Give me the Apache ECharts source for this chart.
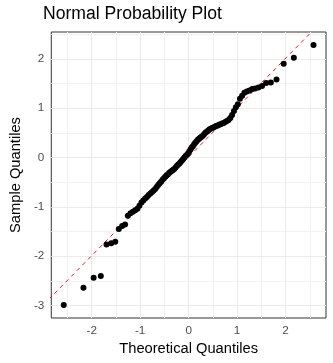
<!DOCTYPE html>
<html>
<head>
<meta charset="utf-8">
<script src="https://cdn.jsdelivr.net/npm/echarts@6/dist/echarts.min.js"></script>
<style>
html,body{margin:0;padding:0;background:#fff;}
#chart{width:333px;height:363px;}
</style>
</head>
<body>
<div id="chart"></div>
<script>
// Theoretical quantiles (n = 100)
const theoretical = [
-2.576,-2.170,-1.960,-1.812,-1.695,-1.598,-1.514,-1.440,-1.372,-1.311,
-1.254,-1.200,-1.150,-1.103,-1.058,-1.015,-0.974,-0.935,-0.896,-0.860,
-0.824,-0.789,-0.755,-0.722,-0.690,-0.659,-0.628,-0.598,-0.568,-0.539,
-0.510,-0.482,-0.454,-0.426,-0.399,-0.372,-0.345,-0.319,-0.292,-0.266,
-0.240,-0.215,-0.189,-0.164,-0.138,-0.113,-0.088,-0.063,-0.038,-0.013,
0.013,0.038,0.063,0.088,0.113,0.138,0.164,0.189,0.215,0.240,
0.266,0.292,0.319,0.345,0.372,0.399,0.426,0.454,0.482,0.510,
0.539,0.568,0.598,0.628,0.659,0.690,0.722,0.755,0.789,0.824,
0.860,0.896,0.935,0.974,1.015,1.058,1.103,1.150,1.200,1.254,
1.311,1.372,1.440,1.514,1.598,1.695,1.812,1.960,2.170,2.576
];
// Sample quantiles
const sample = [
-2.99,-2.64,-2.44,-2.40,-1.765,-1.74,-1.71,-1.45,-1.39,-1.36,
-1.18,-1.13,-1.10,-1.07,-1.04,-0.98,-0.91,-0.87,-0.83,-0.80,
-0.76,-0.73,-0.70,-0.67,-0.64,-0.60,-0.56,-0.52,-0.49,-0.45,
-0.42,-0.39,-0.36,-0.34,-0.31,-0.29,-0.27,-0.25,-0.23,-0.20,
-0.17,-0.14,-0.12,-0.09,-0.06,-0.03,0.00,0.03,0.05,0.08,
0.12,0.16,0.20,0.23,0.27,0.30,0.33,0.36,0.38,0.40,
0.42,0.44,0.47,0.50,0.52,0.54,0.565,0.58,0.60,0.61,
0.625,0.64,0.65,0.665,0.675,0.69,0.70,0.72,0.74,0.76,
0.80,0.86,0.94,1.02,1.08,1.19,1.25,1.31,1.34,1.36,
1.39,1.40,1.42,1.45,1.51,1.52,1.58,1.90,2.02,2.28
];
// Reference line end points
const refLineX = [-3, 3];
const refLineY = [-2.99, 3.01];
// Ticks
const xTicks = [-2, -1, 0, 1, 2];
const yTicks = [-3, -2, -1, 0, 1, 2];
const xMinor = [-2.5, -1.5, -0.5, 0.5, 1.5, 2.5];
const yMinor = [-2.5, -1.5, -0.5, 0.5, 1.5, 2.5];
const xRange = [-2.8334, 2.8334];
const yRange = [-3.2535, 2.5435];

const FONT = "'Liberation Sans', Arial, sans-serif";
const points = theoretical.map((x, i) => [x, sample[i]]);
const refLine = refLineX.map((x, i) => [x, refLineY[i]]);

const gridLines = [];
xMinor.forEach(v => gridLines.push({xAxis: v, lineStyle: {color: '#F2F2F2', width: 1}}));
yMinor.forEach(v => gridLines.push({yAxis: v, lineStyle: {color: '#F2F2F2', width: 1}}));
xTicks.forEach(v => gridLines.push({xAxis: v, lineStyle: {color: '#EBEBEB', width: 1}}));
yTicks.forEach(v => gridLines.push({yAxis: v, lineStyle: {color: '#EBEBEB', width: 1}}));

const chart = echarts.init(document.getElementById('chart'), null, {renderer: 'canvas'});
chart.setOption({
  animation: false,
  backgroundColor: '#ffffff',
  title: {
    text: 'Normal Probability Plot',
    left: 43, top: 5, padding: 0,
    textStyle: {fontFamily: FONT, fontSize: 17.6, fontWeight: 'normal', color: '#000'}
  },
  grid: {
    left: 43, right: 7, top: 32, bottom: 45,
    show: true, borderColor: '#333333', borderWidth: 1, backgroundColor: '#ffffff'
  },
  xAxis: {
    type: 'value', min: xRange[0], max: xRange[1],
    name: 'Theoretical Quantiles', nameLocation: 'middle', nameGap: 22,
    nameTextStyle: {fontFamily: FONT, fontSize: 14.7, color: '#000'},
    axisLine: {show: false},
    axisTick: {show: true, length: 4, customValues: xTicks, lineStyle: {color: '#333333', width: 1}},
    axisLabel: {show: true, margin: 7, customValues: xTicks, fontFamily: FONT, fontSize: 11.7, color: '#4D4D4D'},
    splitLine: {show: false}
  },
  yAxis: {
    type: 'value', min: yRange[0], max: yRange[1],
    name: 'Sample Quantiles', nameLocation: 'middle', nameGap: 22,
    nameTextStyle: {fontFamily: FONT, fontSize: 14.7, color: '#000'},
    axisLine: {show: false},
    axisTick: {show: true, length: 4, customValues: yTicks, lineStyle: {color: '#333333', width: 1}},
    axisLabel: {show: true, margin: 7, customValues: yTicks, fontFamily: FONT, fontSize: 11.7, color: '#4D4D4D'},
    splitLine: {show: false}
  },
  series: [
    {
      type: 'scatter', z: 1, data: [], silent: true,
      markLine: {z: 1, zlevel: 0, silent: true, symbol: 'none', label: {show: false}, animation: false,
        lineStyle: {type: 'solid'}, emphasis: {disabled: true}, data: gridLines}
    },
    {
      type: 'line', z: 2, data: refLine, showSymbol: false, symbol: 'none', clip: true, silent: true,
      lineStyle: {color: '#E00000', width: 0.9, type: [4, 4]}
    },
    {
      type: 'scatter', z: 3, data: points, symbol: 'circle', symbolSize: 6,
      itemStyle: {color: '#000000', opacity: 1}, silent: true
    }
  ]
});
</script>
</body>
</html>
